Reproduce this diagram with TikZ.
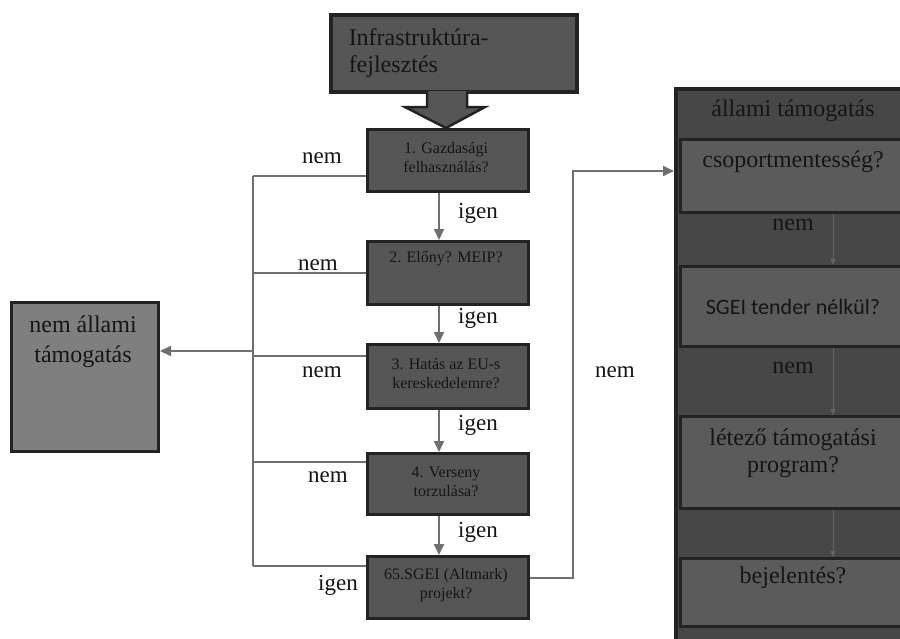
\documentclass[tikz,border=0pt]{standalone}
\usepackage{fontspec}
\setmainfont{Liberation Serif}
\newfontfamily\calibrifont{Carlito}
\usetikzlibrary{arrows.meta}
\definecolor{boxc}{HTML}{565656}
\definecolor{edgec}{HTML}{232323}
\definecolor{outerc}{HTML}{474747}
\definecolor{innerc}{HTML}{5B5B5B}
\definecolor{leftc}{HTML}{7F7F7F}
\definecolor{linec}{HTML}{6F6F6F}
\definecolor{txtc}{HTML}{151515}
\definecolor{faintc}{HTML}{656565}
\begin{document}
\begin{tikzpicture}[x=1pt,y=-1pt,
  flowbox/.style={draw=edgec, line width=3pt, fill=boxc, anchor=north west, minimum width=161pt, inner sep=0pt},
  ftxt/.style={align=center, font=\fontsize{16}{19}\selectfont, text=txtc, inner sep=0pt},
  lbl/.style={font=\fontsize{23}{26}\selectfont, text=txtc, inner sep=0pt},
  conn/.style={draw=linec, line width=1.8pt},
  arr/.style={conn, -{Triangle[length=11pt,width=10pt]}},
  pbox/.style={draw=edgec, line width=3pt, fill=innerc, anchor=north west, minimum width=300pt, inner sep=0pt},
  ptxt/.style={font=\fontsize{24}{27}\selectfont, text=txtc, align=center, inner sep=0pt},
  faint/.style={draw=faintc, line width=0.8pt, -{Triangle[length=6pt,width=5pt]}}
]
\useasboundingbox (0,0) rectangle (900,638);
\clip (0,0) rectangle (900,638);
\fill[white] (0,0) rectangle (900,638);

% top box
\node[draw=edgec, line width=3.5pt, fill=boxc, anchor=north west, minimum width=246pt, minimum height=77pt, text width=210pt, inner xsep=18pt, inner ysep=0pt, align=left, font=\fontsize{24}{26.5}\selectfont, text=txtc] (top) at (329,13) {Infrastruktúra-\\fejlesztés};

% big arrow
\filldraw[fill=boxc, draw=edgec, line width=2.5pt, line join=miter] (427,91) -- (427,107) -- (405,107) -- (446,128) -- (485,107) -- (467,107) -- (467,91);

% flow boxes
\node[flowbox, minimum height=62pt] (b1) at (366,128) {};
\node[flowbox, minimum height=63pt] (b2) at (366,240) {};
\node[flowbox, minimum height=64pt] (b3) at (366,343) {};
\node[flowbox, minimum height=61pt] (b4) at (366,452) {};
\node[flowbox, minimum height=62pt] (b5) at (366,555) {};
\node[ftxt] (t1) at (446,158) {1. Gazdasági\\felhasználás?};
\node[ftxt] (t2) at (446,259) {2. Előny? MEIP?};
\node[ftxt] (t3) at (446,374) {3. Hatás az EU-s\\kereskedelemre?};
\node[ftxt] (t4) at (446,482) {4. Verseny\\torzulása?};
\node[ftxt] (t5) at (446,585) {65.SGEI (Altmark)\\projekt?};

% vertical arrows
\coordinate (ax) at (439,0);
\draw[arr] (b1.south -| ax) -- (b2.north -| ax);
\draw[arr] (b2.south -| ax) -- (b3.north -| ax);
\draw[arr] (b3.south -| ax) -- (b4.north -| ax);
\draw[arr] (b4.south -| ax) -- (b5.north -| ax);
\node[lbl] (i1) at (478,213) {igen};
\node[lbl] (i2) at (478,318) {igen};
\node[lbl] (i3) at (478,425) {igen};
\node[lbl] (i4) at (478,532) {igen};

% left box
\node[draw=edgec, line width=3pt, fill=leftc, anchor=north west, minimum width=147pt, minimum height=149pt, inner sep=0pt] (nonstate) at (10,301) {};
\node[font=\fontsize{24}{30}\selectfont, text=txtc, align=center, inner sep=0pt] (nst) at (83,342) {nem állami\\támogatás};

% bus
\coordinate (busT) at (253,176);
\coordinate (busB) at (253,566);
\coordinate (h2) at (253,273);
\coordinate (h3) at (253,356);
\coordinate (h4) at (253,462);
\coordinate (hl) at (253,351);
\draw[conn] (busT) -- (busB);
\draw[conn] (b1.west |- busT) -- (busT);
\draw[conn] (b2.west |- h2) -- (h2);
\draw[conn] (b3.west |- h3) -- (h3);
\draw[conn] (b4.west |- h4) -- (h4);
\draw[conn] (b5.west |- busB) -- (busB);
\draw[arr] (hl) -- (nonstate.east |- hl);
\node[lbl] (n1) at (322,158) {nem};
\node[lbl] (n2) at (318,265) {nem};
\node[lbl] (n3) at (322,372) {nem};
\node[lbl] (n4) at (328,477) {nem};
\node[lbl] (i5) at (338,585) {igen};

% right panel
\node[draw=edgec, line width=3.5pt, fill=outerc, anchor=north west, minimum width=300pt, minimum height=600pt, inner sep=0pt] (rp) at (674,87) {};
\node[pbox, minimum height=73pt] (p1) at (679,138) {};
\node[pbox, minimum height=80pt] (p2) at (679,265) {};
\node[pbox, minimum height=92pt] (p3) at (679,415) {};
\node[pbox, minimum height=68pt] (p4) at (679,557) {};
\node[ptxt] (hd) at (793,111) {állami támogatás};
\node[ptxt] (pt1) at (793,162) {csoportmentesség?};
\node[ptxt] (pn1) at (793,225) {nem};
\node[ptxt, font=\calibrifont\fontsize{22}{26}\selectfont] (pt2) at (793,307) {SGEI tender nélkül?};
\node[ptxt] (pn2) at (793,368) {nem};
\node[ptxt] (pt3) at (793,453) {létező támogatási\\program?};
\node[ptxt] (pt4) at (793,578) {bejelentés?};
\coordinate (fx) at (833,0);
\draw[faint] (p1.south -| fx) -- (p2.north -| fx);
\draw[faint] (p2.south -| fx) -- (p3.north -| fx);
\draw[faint] (p3.south -| fx) -- (p4.north -| fx);

% output connector
\coordinate (o1) at (573,578);
\coordinate (o2) at (573,171);
\draw[arr, line join=miter] (b5.east |- o1) -- (o1) -- (o2) -- (rp.west |- o2);
\node[lbl] (nm) at (615,372) {nem};
\end{tikzpicture}
\end{document}
